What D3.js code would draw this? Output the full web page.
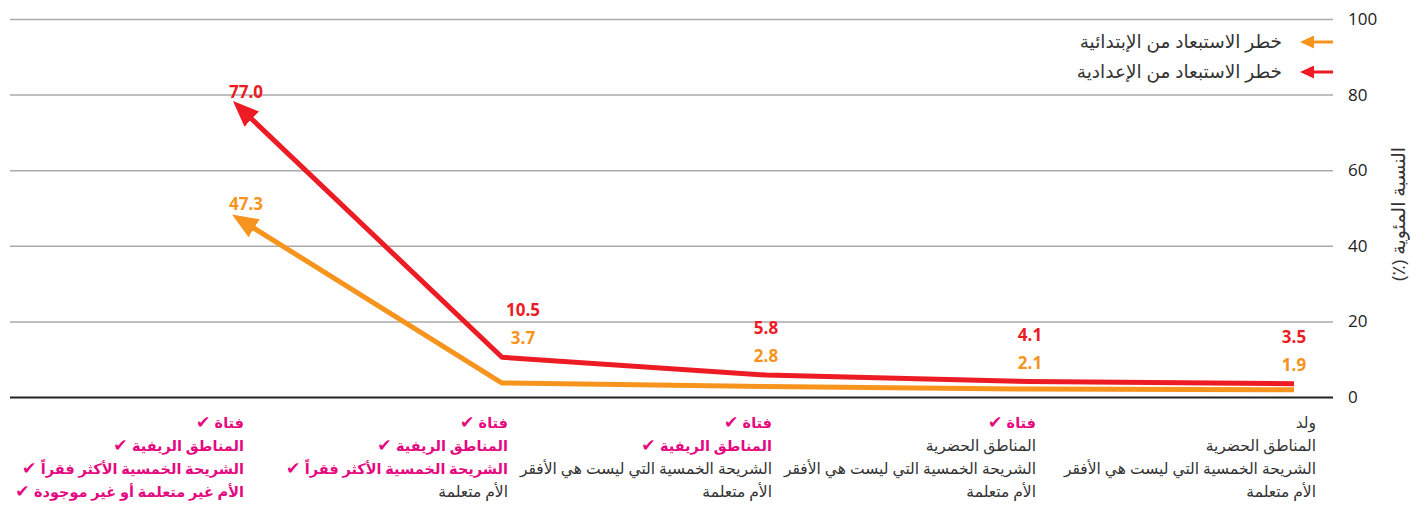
<!DOCTYPE html>
<html>
<head>
<meta charset="utf-8">
<script src="https://cdn.jsdelivr.net/npm/d3@7"></script>
<style>
    body { margin: 0; background: #fff; }
    svg text { font-family: "Open Sans", "DejaVu Sans", sans-serif; }
</style>
</head>
<body>
<div id="chart"></div>
<script>
// categories run right to left: boy / girl / rural girl / poor rural girl / + uneducated mother
const categories = ['ولد', 'فتاة', 'فتاة ريفية', 'فتاة ريفية فقيرة', 'فتاة ريفية فقيرة أمها غير متعلمة'];
const primaryRisk = [1.9, 2.1, 2.8, 3.7, 47.3];
const lowerSecRisk = [3.5, 4.1, 5.8, 10.5, 77.0];
const yTicks = [0, 20, 40, 60, 80, 100];
const seriesNames = ['خطر الاستبعاد من الإبتدائية', 'خطر الاستبعاد من الإعدادية'];
const yTitle = 'النسبة المئوية (٪)';

// label lines per category, true = disadvantage ticked
const labelLines = [
    [['ولد', false], ['المناطق الحضرية', false], ['الشريحة الخمسية التي ليست هي الأفقر', false], ['الأم متعلمة', false]],
    [['فتاة', true], ['المناطق الحضرية', false], ['الشريحة الخمسية التي ليست هي الأفقر', false], ['الأم متعلمة', false]],
    [['فتاة', true], ['المناطق الريفية', true], ['الشريحة الخمسية التي ليست هي الأفقر', false], ['الأم متعلمة', false]],
    [['فتاة', true], ['المناطق الريفية', true], ['الشريحة الخمسية الأكثر فقراً', true], ['الأم متعلمة', false]],
    [['فتاة', true], ['المناطق الريفية', true], ['الشريحة الخمسية الأكثر فقراً', true], ['الأم غير متعلمة أو غير موجودة', true]]
];

const W = 1411, H = 510;
const orange = '#f7941d', red = '#ed1c24', pink = '#e5097f', grey = '#333';

const svg = d3.select('#chart')
    .append('svg')
    .attr('width', W)
    .attr('height', H);

const x = d3.scalePoint()
    .domain(categories)
    .range([1294, 238]);

const y = d3.scaleLinear()
    .domain([0, 100])
    .range([397, 19]);

// gridlines + right axis labels
const yAxis = d3.axisRight(y)
    .tickValues(yTicks)
    .tickSize(-1323)
    .tickPadding(15)
    .tickFormat(d3.format('d'));

const yDisplay = svg.append('g')
    .attr('class', 'axis y-axis')
    .attr('transform', 'translate(1333,0)')
    .call(yAxis);

yDisplay.select('.domain').remove();
yDisplay.selectAll('.tick line')
    .attr('stroke', d => d === 0 ? '#222' : '#aaa')
    .attr('stroke-width', d => d === 0 ? 2 : 1.5);
yDisplay.selectAll('.tick text')
    .attr('fill', '#222')
    .style('font-size', '17px');

svg.append('text')
    .attr('transform', 'translate(1398,214) rotate(-90)')
    .attr('text-anchor', 'middle')
    .attr('direction', 'rtl')
    .attr('dy', '0.35em')
    .attr('fill', grey)
    .style('font-size', '19px')
    .text(yTitle);

// arrow markers
const defs = svg.append('defs');
[['arrow-orange', orange, 26, 21], ['arrow-red', red, 26, 21], ['leg-orange', orange, 14, 13], ['leg-red', red, 14, 13]]
    .forEach(([id, col, len, wid]) => {
        defs.append('marker')
            .attr('id', id)
            .attr('markerUnits', 'userSpaceOnUse')
            .attr('viewBox', `0 ${-wid / 2} ${len} ${wid}`)
            .attr('markerWidth', len)
            .attr('markerHeight', wid)
            .attr('refX', len - 7)
            .attr('refY', 0)
            .attr('orient', 'auto')
            .append('path')
            .attr('d', `M0,${-wid / 2}L${len},0L0,${wid / 2}Z`)
            .attr('fill', col);
    });

const line = d3.line()
    .x(d => x(d.cat))
    .y(d => y(d.value));

const series = [
    { values: primaryRisk, color: orange, marker: 'arrow-orange' },
    { values: lowerSecRisk, color: red, marker: 'arrow-red' }
];

series.forEach(s => {
    const pts = categories.map((c, i) => ({ cat: c, value: s.values[i] }));
    svg.append('path')
        .datum(pts)
        .attr('d', line)
        .attr('fill', 'none')
        .attr('stroke', s.color)
        .attr('stroke-width', 5)
        .attr('stroke-linejoin', 'round')
        .attr('marker-end', `url(#${s.marker})`);
});

// value labels
const labels = svg.append('g')
    .style('font-size', '17px')
    .style('font-weight', 700)
    .attr('text-anchor', 'middle');

categories.forEach((c, i) => {
    const last = i === categories.length - 1;
    const dx = last ? 8 : (i === 3 ? 21 : 0);
    const yr = last ? y(lowerSecRisk[i]) - 8 : y(lowerSecRisk[i]) - 41;
    const yo = last ? y(primaryRisk[i]) - 8 : yr + 28;
    labels.append('text')
        .attr('x', x(c) + dx)
        .attr('y', yr)
        .attr('fill', red)
        .text(lowerSecRisk[i].toFixed(1));
    labels.append('text')
        .attr('x', x(c) + dx)
        .attr('y', yo)
        .attr('fill', orange)
        .text(primaryRisk[i].toFixed(1));
});

// category labels below the baseline
categories.forEach((c, i) => {
    const ax = x(c) + (i === 0 ? 22 : 6);
    labelLines[i].forEach(([txt, on], j) => {
        const t = svg.append('text')
            .attr('direction', 'rtl')
            .attr('text-anchor', 'start')
            .attr('x', ax)
            .attr('y', 428 + j * 23)
            .attr('fill', on ? pink : grey)
            .style('font-size', on ? '14.5px' : '15.5px')
            .style('font-weight', on ? 700 : 400);
        t.append('tspan').text(txt);
        if (on) {
            t.append('tspan')
                .style('font-size', '17px')
                .text(' ✔');
        }
    });
});

// legend
const legend = svg.append('g');
seriesNames.forEach((name, i) => {
    const ly = 42 + i * 30;
    legend.append('line')
        .attr('x1', 1333)
        .attr('x2', 1307)
        .attr('y1', ly)
        .attr('y2', ly)
        .attr('stroke', i === 0 ? orange : red)
        .attr('stroke-width', 3)
        .attr('marker-end', `url(#${i === 0 ? 'leg-orange' : 'leg-red'})`);
    legend.append('text')
        .attr('direction', 'rtl')
        .attr('text-anchor', 'start')
        .attr('x', 1282)
        .attr('y', ly + 6)
        .attr('fill', grey)
        .style('font-size', '18.5px')
        .text(name);
});
</script>
</body>
</html>
